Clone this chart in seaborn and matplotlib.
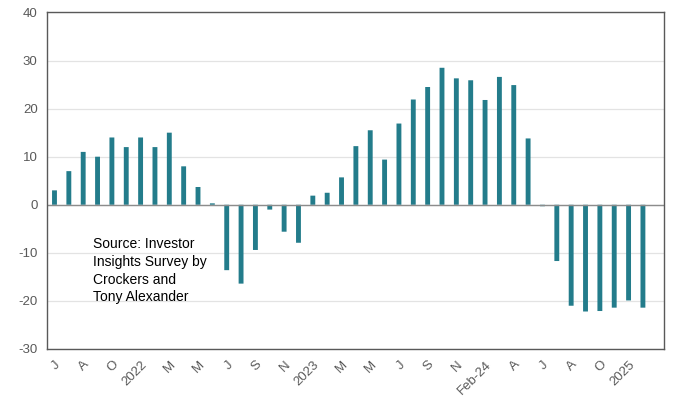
import matplotlib
matplotlib.use("Agg")
import matplotlib.pyplot as plt
import seaborn as sns
import pandas as pd

values = [3.0, 7.0, 11.0, 10.0, 14.0, 12.0, 14.0, 12.0, 15.0, 8.0,
          3.7, 0.3, -13.6, -16.4, -9.4, -1.0, -5.6, -7.9, 1.9, 2.5,
          5.7, 12.2, 15.5, 9.4, 16.9, 21.9, 24.5, 28.5, 26.3, 25.9,
          21.8, 26.6, 24.9, 13.8, -0.3, -11.7, -21.0, -22.2, -22.1, -21.4,
          -19.9, -21.4]
n_slots = 43
tick_labels = ["J", "A", "O", "2022", "M", "M", "J", "S", "N", "2023", "M",
               "M", "J", "S", "N", "Feb-24", "A", "J", "A", "O", "2025"]
source_text = "Source: Investor\nInsights Survey by\nCrockers and\nTony Alexander"

sns.set_theme(style="white")
plt.rcParams['font.family'] = ['Liberation Sans', 'DejaVu Sans']
plt.rcParams['axes.unicode_minus'] = False

df = pd.DataFrame({"pos": list(range(len(values))), "value": values})

fig = plt.figure(figsize=(6.73, 4.03), dpi=100)
ax = fig.add_axes([0.0703, 0.134, 0.917, 0.835])

sns.barplot(data=df, x="pos", y="value", order=list(range(n_slots)),
            color="#237C8B", saturation=1, width=0.34, ax=ax)
for p in ax.patches:
    p.set_snap(False)
    p.set_linewidth(0)

ax.set_ylim(-30, 40)
ax.set_yticks(range(-30, 41, 10))
ax.set_xlim(-0.5, n_slots - 0.5)
ax.yaxis.grid(True, color="#E3E3E3", linewidth=0.9)
ax.set_axisbelow(True)
ax.axhline(0, color="#8C8C8C", linewidth=1.0, zorder=1)

ax.set_xticks(list(range(0, 2 * len(tick_labels), 2)))
ax.set_xticklabels(tick_labels, rotation=45, ha="right", rotation_mode="anchor")
ax.tick_params(axis="both", length=0, labelsize=9.5, labelcolor="#595959")
ax.tick_params(axis="x", pad=7)
ax.tick_params(axis="y", pad=7)
ax.set_xlabel("")
ax.set_ylabel("")

for s in ax.spines.values():
    s.set_visible(True)
    s.set_color("#595959")
    s.set_linewidth(1.0)

ax.text(2.65, -6.8, source_text, fontsize=10, color="black",
        va="top", ha="left", linespacing=1.32)

fig.savefig("out.png", dpi=100)
